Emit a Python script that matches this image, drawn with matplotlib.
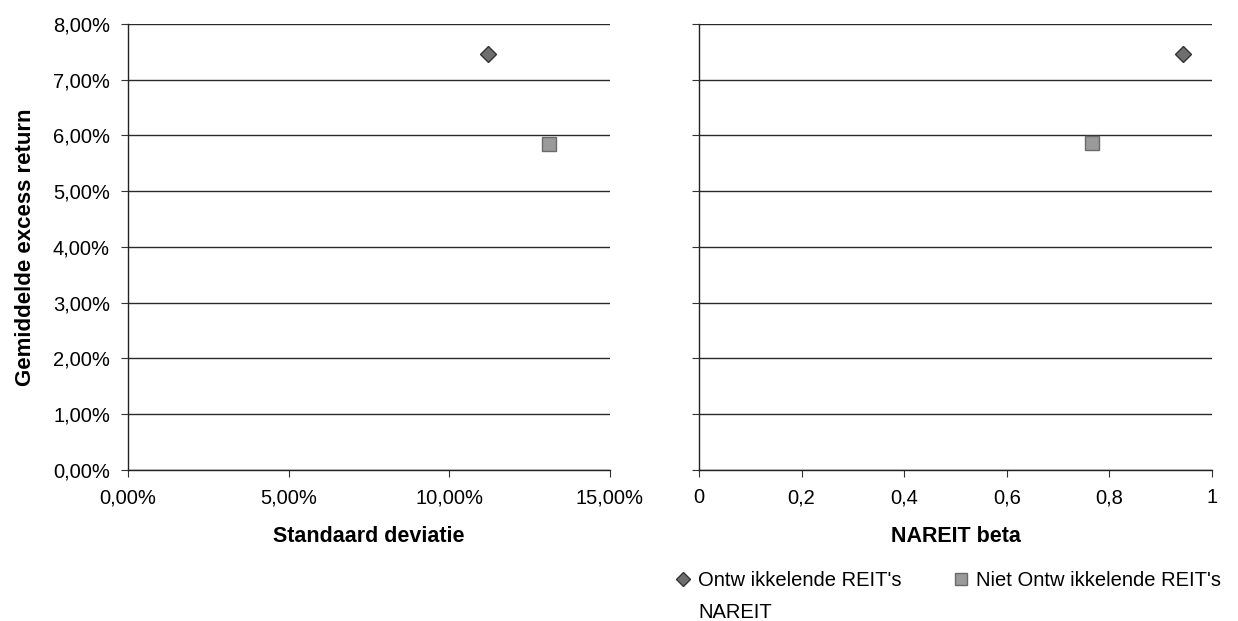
import matplotlib.pyplot as plt
from matplotlib.lines import Line2D
from matplotlib.ticker import FuncFormatter, MultipleLocator

plt.rcParams['font.family'] = ['Liberation Sans', 'DejaVu Sans']

# Data
series = ["Ontw ikkelende REIT's", "Niet Ontw ikkelende REIT's"]
std_dev = [11.19, 13.09]        # %
beta = [0.943, 0.767]
excess_return = [7.47, 5.85]    # %
excess_return_beta = [7.47, 5.87]

markers = ['D', 's']
faces = ['#6e6e6e', '#9a9a9a']
edges = ['#333333', '#6a6a6a']
sizes = [8, 10]


def fmt_beta(v, p):
    v = round(v, 1)
    if v in (0, 1):
        return str(int(v))
    return f"{v:.1f}".replace('.', ',')


fig = plt.figure(figsize=(12.38, 6.21), dpi=100)
ax1 = fig.add_axes([0.1034, 0.2432, 0.3893, 0.7182])
ax2 = fig.add_axes([0.5646, 0.2432, 0.4144, 0.7182])

pct = FuncFormatter(lambda v, p: f"{v:.2f}%".replace('.', ','))

for ax in (ax1, ax2):
    ax.set_ylim(0, 8)
    ax.yaxis.set_major_locator(MultipleLocator(1))
    ax.grid(axis='y', color='#2a2a2a', linewidth=1.0)
    ax.set_axisbelow(True)
    for s in ('top', 'right'):
        ax.spines[s].set_visible(False)
    for s in ('left', 'bottom'):
        ax.spines[s].set_color('#222222')
        ax.spines[s].set_linewidth(1.0)
    ax.tick_params(direction='out', length=5, width=0.8, color='#333333',
                   labelsize=14.5, pad=8)

ax1.set_xlim(0, 15)
ax1.xaxis.set_major_locator(MultipleLocator(5))
ax1.xaxis.set_major_formatter(pct)
ax1.yaxis.set_major_formatter(pct)
ax1.set_xlabel('Standaard deviatie', fontsize=15.5, fontweight='bold', labelpad=14)
ax1.set_ylabel('Gemiddelde excess return', fontsize=16, fontweight='bold', labelpad=12)

ax2.set_xlim(0, 1)
ax2.xaxis.set_major_locator(MultipleLocator(0.2))
ax2.xaxis.set_major_formatter(FuncFormatter(fmt_beta))
ax2.tick_params(axis='y', labelleft=False)
ax2.set_xlabel('NAREIT beta', fontsize=15.5, fontweight='bold', labelpad=14)

for i in range(len(series)):
    ax1.plot(std_dev[i], excess_return[i], linestyle='none', marker=markers[i],
             markersize=sizes[i], markerfacecolor=faces[i], markeredgecolor=edges[i])
    ax2.plot(beta[i], excess_return_beta[i], linestyle='none', marker=markers[i],
             markersize=sizes[i], markerfacecolor=faces[i], markeredgecolor=edges[i])

handles = [
    Line2D([], [], linestyle='none', marker='D', markersize=7,
           markerfacecolor=faces[0], markeredgecolor=edges[0]),
    Line2D([], [], linestyle='none'),
    Line2D([], [], linestyle='none', marker='s', markersize=8,
           markerfacecolor=faces[1], markeredgecolor=edges[1]),
]
labels = [series[0], 'NAREIT', series[1]]
fig.legend(handles, labels, ncol=2, loc='upper left', bbox_to_anchor=(675 / 1238, 0.080),
           frameon=False, fontsize=14.5, handlelength=0.8, handletextpad=0.35,
           columnspacing=2.55, labelspacing=0.65, borderaxespad=0, borderpad=0)

fig.savefig('out.png', dpi=100)
